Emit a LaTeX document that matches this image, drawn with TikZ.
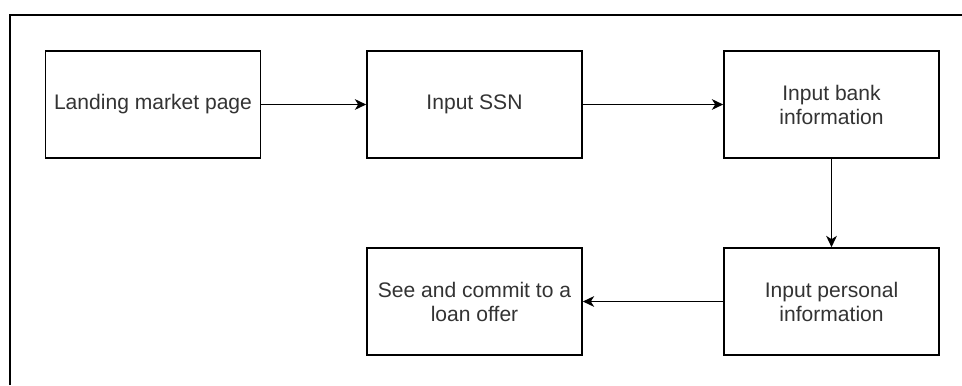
\documentclass[tikz,border=0pt]{standalone}
\usepackage{fontspec}
\setmainfont{Liberation Sans}
\usetikzlibrary{arrows.meta}
\definecolor{txt}{HTML}{333333}
\begin{document}
\begin{tikzpicture}[x=0.75pt,y=-0.75pt,
  box/.style={draw=black,line width=1.2pt,minimum width=161.25pt,minimum height=80.25pt,
    inner sep=0pt,align=center,font=\fontsize{15.8}{18}\selectfont,text=txt},
  conn/.style={draw=black,line width=1.2pt,-{Stealth[length=8.5pt,width=8pt,inset=2.5pt]}}]
\useasboundingbox (0,0) rectangle (962,385);
\fill[white] (0,0) rectangle (962,385);
\coordinate (fa) at (10,385);
\coordinate (fb) at (10,15);
\coordinate (fc) at (962,15);
\draw[line width=1.3pt] (fa) -- (fb) -- (fc);
\node[box] (land) at (153,104.5) {Landing market page};
\node[box] (ssn) at (474.5,104.5) {Input SSN};
\node[box] (bank) at (831.5,104.5) {Input bank\\information};
\node[box] (pers) at (831.5,301.5) {Input personal\\information};
\node[box] (see) at (474.5,301.5) {See and commit to a\\loan offer};
\draw[conn] (land) -- (ssn);
\draw[conn] (ssn) -- (bank);
\draw[conn] (bank) -- (pers);
\draw[conn] (pers) -- (see);
\end{tikzpicture}
\end{document}
